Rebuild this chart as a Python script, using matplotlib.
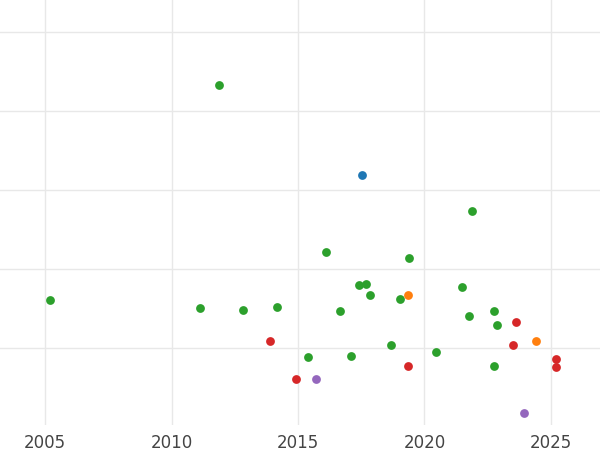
import matplotlib as mpl
mpl.use('Agg')
import matplotlib.pyplot as plt

# points by series (year, value)
GREEN_X = [2011.88, 2021.88, 2016.11, 2019.39, 2005.2, 2011.13, 2012.83, 2014.17, 2016.66,
           2017.41, 2017.69, 2017.85, 2019.03, 2021.48, 2022.75, 2021.76, 2022.87, 2018.68,
           2020.45, 2017.09, 2015.40, 2022.75]
GREEN_Y = [4.33, 2.73, 2.22, 2.14, 1.61, 1.51, 1.49, 1.52, 1.47,
           1.80, 1.81, 1.68, 1.62, 1.78, 1.47, 1.41, 1.30, 1.04,
           0.95, 0.91, 0.89, 0.78]
BLUE_X = [2017.53]
BLUE_Y = [3.19]
ORANGE_X = [2019.35, 2024.41]
ORANGE_Y = [1.68, 1.09]
RED_X = [2023.62, 2013.89, 2023.50, 2025.2, 2025.2, 2019.35, 2014.92]
RED_Y = [1.33, 1.09, 1.04, 0.87, 0.76, 0.78, 0.61]
PURPLE_X = [2015.71, 2023.93]
PURPLE_Y = [0.62, 0.18]

XTICKS = [2005, 2010, 2015, 2020, 2025]

fig = plt.figure(figsize=(6, 4.5), dpi=100)
ax = fig.add_axes([0, 0.055, 1, 0.945])

for xs, ys, c in [(GREEN_X, GREEN_Y, '#2ca02c'), (BLUE_X, BLUE_Y, '#1f77b4'),
                  (ORANGE_X, ORANGE_Y, '#ff7f0e'), (RED_X, RED_Y, '#d62728'),
                  (PURPLE_X, PURPLE_Y, '#9467bd')]:
    ax.scatter(xs, ys, s=40, color=c, zorder=3, linewidths=0)

ax.set_xlim(2003.22, 2026.94)
ax.set_ylim(0.03, 5.4)
ax.set_xticks(XTICKS)
ax.set_xticklabels([str(t) for t in XTICKS])
ax.set_yticks([1, 2, 3, 4, 5])
ax.set_yticklabels([])
ax.tick_params(length=0, labelsize=12, labelcolor='#444444', pad=6)
ax.grid(color='#e8e8e8', linewidth=1)
ax.set_axisbelow(True)
for s in ax.spines.values():
    s.set_visible(False)

plt.savefig('out.png', dpi=100)
plt.close(fig)
